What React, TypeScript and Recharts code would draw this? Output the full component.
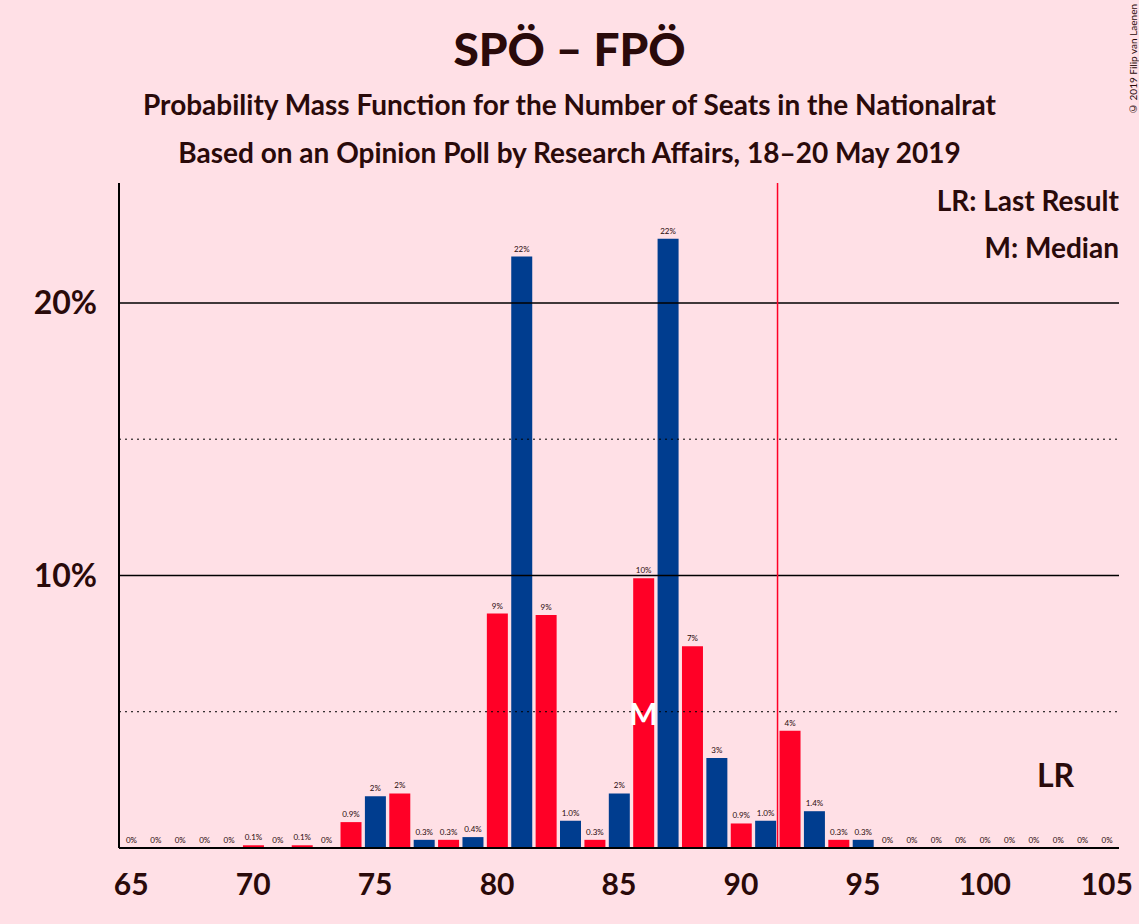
import React from "react";
import { ComposedChart, Bar, Cell, XAxis, YAxis, ReferenceLine, LabelList } from "recharts";

const seats = [65,66,67,68,69,70,71,72,73,74,75,76,77,78,79,80,81,82,83,84,85,86,87,88,89,90,91,92,93,94,95,96,97,98,99,100,101,102,103,104,105];
const probs = [0,0,0,0,0,0.1,0,0.1,0,0.95,1.9,2.0,0.3,0.3,0.4,8.6,21.7,8.55,1.0,0.3,2.0,9.9,22.35,7.4,3.3,0.9,1.0,4.3,1.35,0.3,0.3,0,0,0,0,0,0,0,0,0,0];
const xTicks = [65,70,75,80,85,90,95,100,105];
const RED = "#ff0026";
const BLUE = "#003d8f";
const data = seats.map((s, i) => ({ seat: s, p: Math.max(probs[i], 0.001) }));

const fmt = (v: any) => {
  const n = Number(v);
  if (n < 0.05) return "0%";
  if (n < 1.5) return n.toFixed(1) + "%";
  return Math.round(n) + "%";
};

export default function App() {
  const font = "Lato, 'Open Sans', sans-serif";
  const c = "#2a0a0a";
  return (
    <div style={{ position: "fixed", left: 0, top: 0, width: 1139, height: 924, background: "#ffe0e6", fontFamily: font, color: c }}>
      <div style={{ position: "absolute", top: 21, width: 1139, textAlign: "center", fontSize: 46, fontWeight: 900 }}>SPÖ – FPÖ</div>
      <div style={{ position: "absolute", top: 87, width: 1139, textAlign: "center", fontSize: 28, fontWeight: 700 }}>Probability Mass Function for the Number of Seats in the Nationalrat</div>
      <div style={{ position: "absolute", top: 135, width: 1139, textAlign: "center", fontSize: 28, fontWeight: 700 }}>Based on an Opinion Poll by Research Affairs, 18–20 May 2019</div>
      <div style={{ position: "absolute", top: 183, right: 20, fontSize: 28, fontWeight: 700 }}>LR: Last Result</div>
      <div style={{ position: "absolute", top: 230, right: 20, fontSize: 28, fontWeight: 700 }}>M: Median</div>
      <div style={{ position: "absolute", top: 755, left: 1037, fontSize: 32, fontWeight: 700 }}>LR</div>
      <div style={{ position: "absolute", top: 4, left: 1127, fontSize: 10, writingMode: "vertical-rl", transform: "rotate(180deg)", whiteSpace: "nowrap" }}>© 2019 Filip van Laenen</div>
      <div style={{ position: "absolute", left: 0, top: 0 }}>
        <ComposedChart width={1139} height={924} data={data} margin={{ top: 183, right: 20, bottom: 46, left: 0 }}>
          <XAxis dataKey="seat" type="number" domain={[64.5, 105.5]} ticks={xTicks} allowDataOverflow
            tick={{ fontSize: 30, fontWeight: 700, fill: c, fontFamily: font }} tickLine={false}
            axisLine={{ stroke: "#000", strokeWidth: 2 }} tickMargin={20} />
          <YAxis type="number" domain={[0, 24.4]} ticks={[10, 20]} width={119} tickFormatter={(v) => v + "%"}
            tick={{ fontSize: 32, fontWeight: 700, fill: c, fontFamily: font, dx: -14 }} tickLine={false}
            axisLine={{ stroke: "#000", strokeWidth: 2 }} />
          <ReferenceLine y={5} stroke="#000" strokeDasharray="2 4" />
          <ReferenceLine y={15} stroke="#000" strokeDasharray="2 4" />
          <ReferenceLine y={10} stroke="#000" strokeWidth={1.5} />
          <ReferenceLine y={20} stroke="#000" strokeWidth={1.5} />
          <Bar dataKey="p" barSize={21} isAnimationActive={false}>
            {data.map((d) => (
              <Cell key={d.seat} fill={d.seat % 2 === 0 ? RED : BLUE} />
            ))}
            <LabelList dataKey="p" position="top" formatter={fmt} style={{ fontSize: 8, fill: c, fontFamily: font }} />
          </Bar>
          <ReferenceLine x={91.5} stroke={RED} strokeWidth={1.5} />
          <ReferenceLine segment={[{ x: 86, y: 4.9 }, { x: 86, y: 4.9 }]} stroke="none"
            label={{ value: "M", position: "center", fill: "#fff", fontSize: 30, fontWeight: 700 }} />
        </ComposedChart>
      </div>
    </div>
  );
}
